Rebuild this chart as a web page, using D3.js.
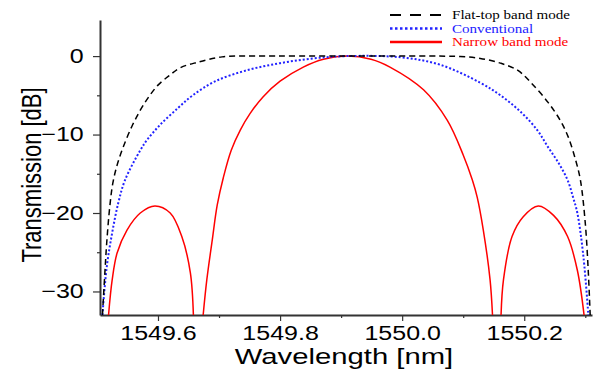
<!DOCTYPE html>
<html>
<head>
<meta charset="utf-8">
<script src="https://cdn.jsdelivr.net/npm/d3@7"></script>
<style>
  body { margin: 0; background: #fff; }
  svg { display: block; }
</style>
</head>
<body>
<div id="chart"></div>
<script>
const width = 596;
const height = 374;

// [wavelength nm, transmission dB]
const flatTop = [
  [1549.509, -33], [1549.513, -27.6], [1549.516, -23.8], [1549.521, -19.2], [1549.526, -16.2],
  [1549.533, -13.9], [1549.543, -11.6], [1549.557, -9.0], [1549.571, -6.9], [1549.584, -5.3],
  [1549.600, -3.7], [1549.620, -2.4], [1549.636, -1.5], [1549.664, -0.8], [1549.705, -0.1],
  [1549.760, 0], [1549.910, 0], [1550.060, 0], [1550.095, -0.05], [1550.128, -0.3],
  [1550.161, -0.9], [1550.189, -1.8], [1550.210, -3.3], [1550.239, -5.9], [1550.259, -8.2],
  [1550.272, -10.3], [1550.284, -13.2], [1550.292, -15.8], [1550.300, -21.3], [1550.305, -27.6],
  [1550.308, -33]
];
const conventional = [
  [1549.509, -33], [1549.516, -26.9], [1549.525, -22.5], [1549.535, -18.7], [1549.546, -15.8],
  [1549.571, -12.0], [1549.582, -10.7], [1549.603, -8.8], [1549.633, -6.6], [1549.657, -5.0],
  [1549.694, -3.2], [1549.746, -1.8], [1549.800, -0.9], [1549.854, -0.3], [1549.910, 0],
  [1549.997, -0.15], [1550.062, -1.1], [1550.128, -3.4], [1550.161, -5.0], [1550.194, -7.1],
  [1550.221, -9.4], [1550.239, -11.6], [1550.256, -13.6], [1550.271, -15.8], [1550.280, -18.0],
  [1550.287, -20.0], [1550.297, -25.6], [1550.305, -33]
];
const narrowSideL = [
  [1549.519, -33], [1549.525, -28.5], [1549.533, -25.1], [1549.549, -22.2], [1549.571, -20.0],
  [1549.595, -19.1], [1549.620, -20.0], [1549.639, -23.0], [1549.653, -27.6], [1549.658, -33]
];
const narrowMain = [
  [1549.674, -33], [1549.680, -28.5], [1549.689, -23.4], [1549.697, -19.0], [1549.707, -15.5],
  [1549.720, -12.0], [1549.735, -9.4], [1549.751, -7.3], [1549.772, -5.2], [1549.800, -3.2],
  [1549.838, -1.4], [1549.871, -0.4], [1549.910, 0], [1549.949, -0.4], [1549.980, -1.4],
  [1550.035, -4.3], [1550.074, -8.2], [1550.100, -12.6], [1550.115, -15.8], [1550.123, -18.0],
  [1550.133, -22.2], [1550.144, -28.5], [1550.148, -33]
];
const narrowSideR = [
  [1550.162, -33], [1550.166, -28.5], [1550.180, -23.0], [1550.198, -20.5], [1550.223, -19.1],
  [1550.248, -20.3], [1550.271, -23.0], [1550.287, -27.3], [1550.298, -33]
];

const xTicks = [1549.6, 1549.8, 1550.0, 1550.2];
const xMinor = [1549.7, 1549.9, 1550.1, 1550.3];
const yTicks = [-30, -20, -10, 0];
const yMinor = [-25, -15, -5];
const legendNames = ["Flat-top band mode", "Conventional", "Narrow band mode"];

const stretch = "scale(1.25,1)";

const svg = d3.select("#chart")
  .append("svg")
  .attr("width", width)
  .attr("height", height);

const x = d3.scaleLinear()
  .domain([1549.505, 1550.311])
  .range([100, 592]);

const y = d3.scaleLinear()
  .domain([-33, 4.6])
  .range([315, 20]);

// axes
const xAxis = svg.append("g")
  .attr("transform", "translate(0,315)")
  .call(d3.axisBottom(x).tickValues(xTicks).tickFormat(d3.format(".1f")).tickSize(6).tickSizeOuter(0).tickPadding(5));
svg.append("g")
  .attr("transform", "translate(0,315)")
  .call(d3.axisBottom(x).tickValues(xMinor).tickFormat("").tickSize(3).tickSizeOuter(0))
  .select(".domain").remove();

const yAxis = svg.append("g")
  .attr("transform", "translate(100,0)")
  .call(d3.axisLeft(y).tickValues(yTicks).tickSize(7).tickSizeOuter(0).tickPadding(6));
svg.append("g")
  .attr("transform", "translate(100,0)")
  .call(d3.axisLeft(y).tickValues(yMinor).tickFormat("").tickSize(3).tickSizeOuter(0))
  .select(".domain").remove();

svg.selectAll(".domain").attr("stroke", "#333").attr("stroke-width", 2);
svg.selectAll(".tick line").attr("stroke", "#333").attr("stroke-width", 1.2);

xAxis.selectAll("text")
  .attr("font-family", "Liberation Sans, Arial, sans-serif")
  .attr("font-size", 20)
  .attr("fill", "#000")
  .attr("transform", stretch);
yAxis.selectAll("text")
  .attr("font-family", "Liberation Sans, Arial, sans-serif")
  .attr("font-size", 20)
  .attr("fill", "#000")
  .attr("transform", stretch);

svg.append("text")
  .attr("transform", "translate(344,364) scale(1.33,1)")
  .attr("text-anchor", "middle")
  .attr("font-family", "Liberation Sans, Arial, sans-serif")
  .attr("font-size", 22)
  .text("Wavelength [nm]");

svg.append("text")
  .attr("transform", "translate(41,175) " + stretch + " rotate(-90)")
  .attr("text-anchor", "middle")
  .attr("font-family", "Liberation Sans, Arial, sans-serif")
  .attr("font-size", 22)
  .text("Transmission [dB]");

// curves
svg.append("clipPath").attr("id", "plotClip")
  .append("rect").attr("x", 100).attr("y", 0).attr("width", 496).attr("height", 315);

const line = d3.line()
  .x(d => x(d[0]))
  .y(d => y(d[1]))
  .curve(d3.curveCatmullRom.alpha(0.5));

const plot = svg.append("g").attr("clip-path", "url(#plotClip)");

[narrowSideL, narrowMain, narrowSideR].forEach(function(s) {
  plot.append("path")
    .attr("d", line(s))
    .attr("fill", "none")
    .attr("stroke", "#ff0000")
    .attr("stroke-width", 1.5);
});

plot.append("path")
  .attr("d", line(conventional))
  .attr("fill", "none")
  .attr("stroke", "#2222ff")
  .attr("stroke-width", 2)
  .attr("stroke-dasharray", "2,2");

plot.append("path")
  .attr("d", line(flatTop))
  .attr("fill", "none")
  .attr("stroke", "#000")
  .attr("stroke-width", 1.5)
  .attr("stroke-dasharray", "6,4");

// legend
const legendStyle = [
  { color: "#000", dash: "11,9", w: 2 },
  { color: "#2222ff", dash: "2.5,2.5", w: 2.5 },
  { color: "#ff0000", dash: null, w: 2.5 }
];
const legend = svg.append("g").attr("transform", "translate(390,15)");
legendNames.forEach(function(name, i) {
  legend.append("line")
    .attr("x1", 0).attr("x2", 52)
    .attr("y1", i * 13.5).attr("y2", i * 13.5)
    .attr("stroke", legendStyle[i].color)
    .attr("stroke-width", legendStyle[i].w)
    .attr("stroke-dasharray", legendStyle[i].dash);
  legend.append("text")
    .attr("transform", "translate(62," + (i * 13.5 + 4) + ") scale(1.16,1)")
    .attr("font-family", "Liberation Serif, Times New Roman, serif")
    .attr("font-size", 13)
    .attr("fill", legendStyle[i].color)
    .text(name);
});
</script>
</body>
</html>
